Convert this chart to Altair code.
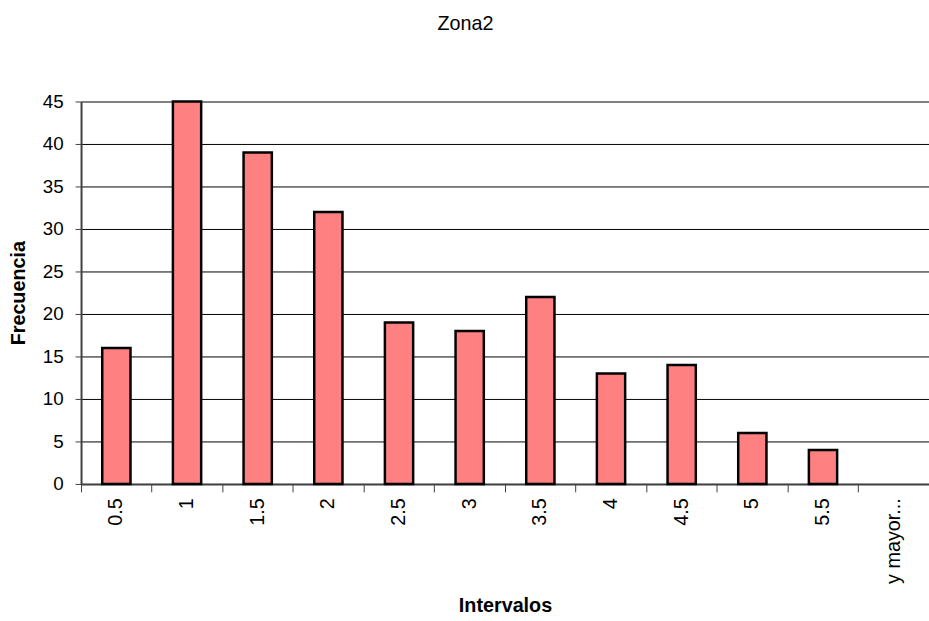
import altair as alt
import pandas as pd

categories = ["0.5", "1", "1.5", "2", "2.5", "3", "3.5", "4", "4.5", "5", "5.5", "y mayor..."]
frecuencia = [16, 45, 39, 32, 19, 18, 22, 13, 14, 6, 4, 0]

df = pd.DataFrame({"Intervalos": categories, "Frecuencia": frecuencia})

chart = alt.Chart(df).transform_filter(
    "datum.Frecuencia > 0"
).mark_bar(
    fill="#FF8080", stroke="black", strokeWidth=2.5, width=alt.RelativeBandSize(0.4)
).encode(
    x=alt.X("Intervalos:N", sort=categories,
            scale=alt.Scale(domain=categories, paddingInner=0, paddingOuter=0),
            axis=alt.Axis(title="Intervalos", labelAngle=-90, labelFontSize=20,
                          labelFont="Liberation Sans", labelColor="black",
                          labelPadding=6, bandPosition=0, tickSize=8,
                          tickColor="#404040", domainColor="#404040", domainWidth=2,
                          titleFont="Liberation Sans", titleFontSize=20, titleFontWeight="bold",
                          titleColor="black", titlePadding=12)),
    y=alt.Y("Frecuencia:Q",
            scale=alt.Scale(domain=[0, 45], nice=False),
            axis=alt.Axis(title="Frecuencia", values=list(range(0, 46, 5)),
                          labelFontSize=19, labelFont="Liberation Sans", labelColor="black",
                          labelPadding=12, tickSize=6, tickColor="#404040",
                          domainColor="#404040", domainWidth=2,
                          grid=True,
                          gridColor=alt.condition("datum.value == 45", alt.value("#808080"), alt.value("black")),
                          gridWidth=alt.condition("datum.value == 45", alt.value(2), alt.value(1)),
                          titleFont="Liberation Sans", titleFontSize=20, titleFontWeight="bold",
                          titleColor="black", titlePadding=14)),
).properties(
    width=858, height=387,
    title=alt.TitleParams("Zona2", font="Liberation Sans", fontSize=20, fontWeight="normal",
                          color="black", anchor="middle", dx=-40, offset=59),
    autosize=alt.AutoSizeParams(type="none"),
    padding={"left": 82, "top": 99, "right": 0, "bottom": 135},
).configure_view(stroke=None)

chart.save("out.html", embed_options={"renderer": "svg", "actions": False})
